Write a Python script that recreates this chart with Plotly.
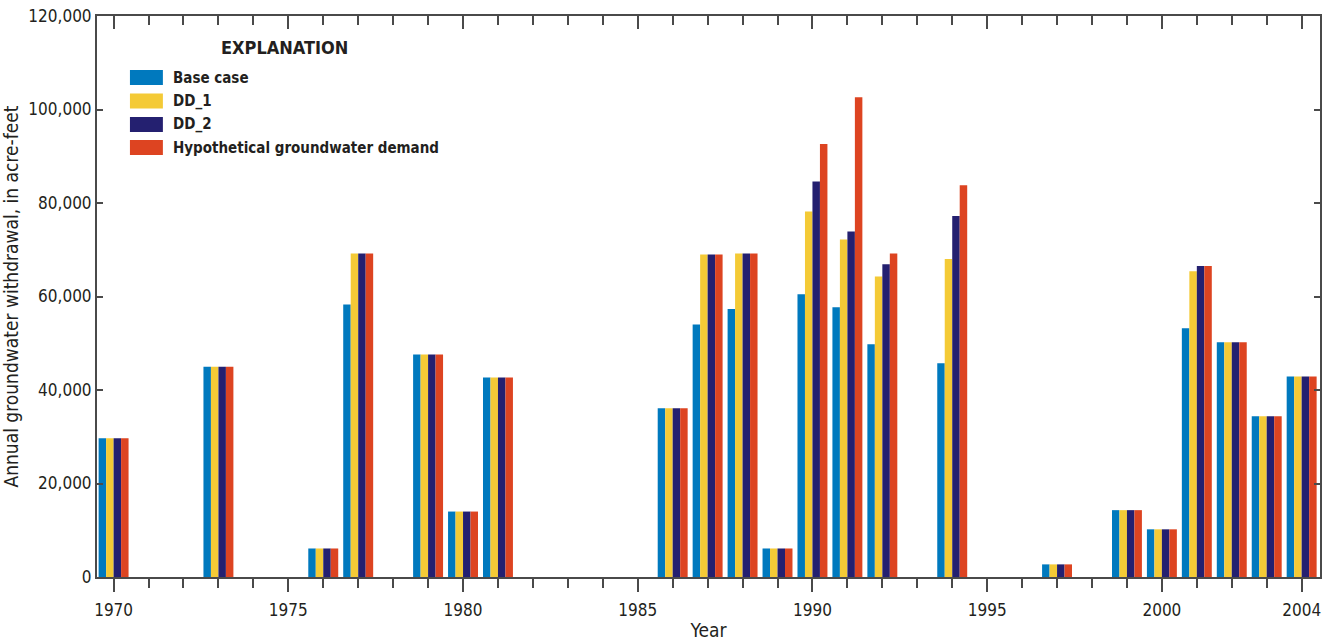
import plotly.graph_objects as go

years = [1970, 1973, 1976, 1977, 1979, 1980, 1981, 1986, 1987, 1988, 1989,
         1990, 1991, 1992, 1994, 1997, 1999, 2000, 2001, 2002, 2003, 2004]
base_case = [29700, 45000, 6100, 58300, 47600, 14000, 42700, 36100, 54000, 57300, 6100,
             60500, 57700, 49800, 45700, 2700, 14300, 10200, 53200, 50200, 34400, 42900]
dd_1 = [29700, 45000, 6100, 69200, 47600, 14000, 42700, 36100, 69000, 69200, 6100,
        78200, 72200, 64300, 68000, 2700, 14300, 10200, 65400, 50200, 34400, 42900]
dd_2 = [29700, 45000, 6100, 69200, 47600, 14000, 42700, 36100, 69000, 69200, 6100,
        84600, 73900, 66900, 77200, 2700, 14300, 10200, 66500, 50200, 34400, 42900]
hyp_demand = [29700, 45000, 6100, 69200, 47600, 14000, 42700, 36100, 69000, 69200, 6100,
              92600, 102600, 69200, 83800, 2700, 14300, 10200, 66500, 50200, 34400, 42900]

series_names = ["Base case", "DD_1", "DD_2", "Hypothetical groundwater demand"]
series_values = [base_case, dd_1, dd_2, hyp_demand]
colors = ["#0079BE", "#F4CA36", "#242070", "#DD4421"]

x_tickvals = [1970, 1975, 1980, 1985, 1990, 1995, 2000, 2004]
y_tickvals = [0, 20000, 40000, 60000, 80000, 100000, 120000]

FONT = "DejaVu Sans Condensed, Liberation Sans Narrow, sans-serif"
AXC = "#4a4a4a"

fig = go.Figure()
for name, vals, c in zip(series_names, series_values, colors):
    fig.add_trace(go.Bar(x=years, y=vals, name=name, marker=dict(color=c, line=dict(width=0)),
                         showlegend=False))

# dummy trace for top axis
fig.add_trace(go.Scatter(x=[1980], y=[0], xaxis="x2", mode="markers",
                         marker=dict(opacity=0), showlegend=False, hoverinfo="skip"))

XR = [1969.525, 2004.525]
L, R, T, B = 97, 5, 16, 67
W, H = 1327, 644

fig.update_layout(
    width=W, height=H, autosize=False,
    margin=dict(l=L, r=R, t=T, b=B),
    paper_bgcolor="white", plot_bgcolor="white",
    barmode="group", bargap=0.143, bargroupgap=0,
    font=dict(family=FONT, color="#231f20", size=17),
    xaxis=dict(range=XR, tickmode="array", tickvals=x_tickvals,
               ticktext=[str(v) for v in x_tickvals],
               ticks="outside", ticklen=13, tickwidth=2, tickcolor=AXC,
               showline=True, linewidth=2, linecolor=AXC, showgrid=False, zeroline=False,
               minor=dict(dtick=1, tick0=1970, ticks="outside", ticklen=9, tickwidth=2,
                          tickcolor=AXC, showgrid=False),
               tickfont=dict(size=17), ticklabelstandoff=4,
               title=dict(text="Year", font=dict(size=19), standoff=4)),
    xaxis2=dict(range=XR, overlaying="x", side="top", tickmode="array", tickvals=x_tickvals,
                showticklabels=False, ticks="inside", ticklen=13, tickwidth=2, tickcolor=AXC,
                showline=True, linewidth=2, linecolor=AXC, showgrid=False, zeroline=False,
                minor=dict(dtick=1, tick0=1970, ticks="inside", ticklen=9, tickwidth=2,
                           tickcolor=AXC, showgrid=False)),
    yaxis=dict(range=[0, 120000], tickmode="array", tickvals=y_tickvals, tickformat=",",
               ticks="inside", ticklen=6, tickwidth=2, tickcolor=AXC,
               showline=True, linewidth=2, linecolor=AXC, mirror="ticks",
               showgrid=False, zeroline=False, tickfont=dict(size=17),
               title=dict(text="Annual groundwater withdrawal, in acre-feet",
                          font=dict(size=19), standoff=6)),
)

# custom legend (pixel positions converted to paper coords)
pw = W - L - R
ph = H - T - B

def px(x):
    return (x - L) / pw

def py(y):
    return (H - B - y) / ph

fig.add_annotation(x=px(285), y=py(48), xref="paper", yref="paper", text="<b>EXPLANATION</b>",
                   showarrow=False, xanchor="center", yanchor="middle",
                   font=dict(family=FONT, size=18, color="#231f20"))
centers = [77.5, 101, 124.5, 147.5]
for name, c, cy in zip(series_names, colors, centers):
    fig.add_shape(type="rect", xref="paper", yref="paper", x0=px(130), x1=px(163),
                  y0=py(cy + 7.5), y1=py(cy - 7.5), fillcolor=c, line=dict(width=0))
    fig.add_annotation(x=px(171), y=py(cy), xref="paper", yref="paper", text=f"<b>{name}</b>",
                       showarrow=False, xanchor="left", yanchor="middle",
                       font=dict(family=FONT, size=15, color="#231f20"))

fig.write_html("out.html", config={"displayModeBar": False},
               post_script="document.body.style.margin='0';")
